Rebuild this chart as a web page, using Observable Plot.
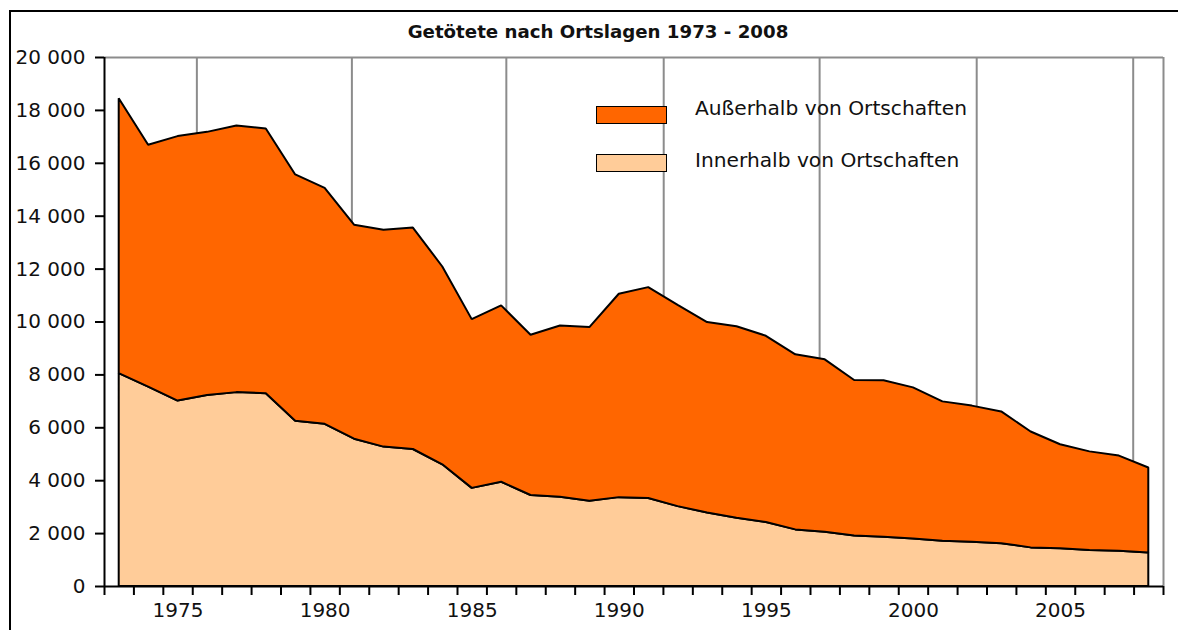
<!DOCTYPE html>
<html>
<head>
<meta charset="utf-8">
<script src="https://cdn.jsdelivr.net/npm/d3@7"></script>
<script src="https://cdn.jsdelivr.net/npm/@observablehq/plot@0.6"></script>
<style>
  html, body { margin: 0; padding: 0; background: #fff; }
  #wrap { position: relative; width: 1178px; height: 630px; overflow: hidden; font-family: "DejaVu Sans", sans-serif; }
  #frame { position: absolute; left: 9px; top: 10px; width: 1300px; height: 800px; border-left: 2.5px solid #000; border-top: 2.5px solid #000; box-sizing: border-box; }
  #title { position: absolute; left: 0; width: 1196px; top: 21px; text-align: center; font-weight: bold; font-size: 18.2px; color: #111; }
  #chart { position: absolute; left: 0; top: 0; }
  .leg { position: absolute; left: 596px; width: 71px; height: 18px; border: 1.5px solid #000; box-sizing: border-box; }
  .legtxt { position: absolute; left: 695px; font-size: 20.2px; color: #111; line-height: 24px; }
</style>
</head>
<body>
<div id="wrap">
  <div id="frame"></div>
  <div id="chart"></div>
  <div id="title">Getötete nach Ortslagen 1973 - 2008</div>
  <div class="leg" style="top:106px;background:#FF6600"></div>
  <div class="legtxt" style="top:96px">Außerhalb von Ortschaften</div>
  <div class="leg" style="top:154px;background:#FFCC99"></div>
  <div class="legtxt" style="top:148px">Innerhalb von Ortschaften</div>
</div>
<script>
const years = [1973,1974,1975,1976,1977,1978,1979,1980,1981,1982,1983,1984,1985,1986,1987,1988,1989,1990,1991,1992,1993,1994,1995,1996,1997,1998,1999,2000,2001,2002,2003,2004,2005,2006,2007,2008];
const innerhalb = [8050,7540,7010,7220,7330,7290,6250,6130,5570,5270,5180,4600,3710,3940,3440,3370,3220,3360,3330,3020,2780,2580,2420,2140,2050,1910,1860,1800,1710,1670,1620,1460,1430,1360,1330,1270];
const ausserhalb = [10390,9140,10000,9950,10080,10010,9310,8920,8090,8200,8370,7480,6380,6670,6060,6480,6570,7690,7970,7610,7200,7240,7040,6620,6520,5880,5920,5710,5270,5150,4980,4380,3930,3730,3600,3210];
const seriesNames = ["Innerhalb von Ortschaften", "Außerhalb von Ortschaften"];
const seriesColors = ["#FFCC99", "#FF6600"];
const yTicks = [0,2000,4000,6000,8000,10000,12000,14000,16000,18000,20000];
const xLabelYears = [1975,1980,1985,1990,1995,2000,2005];
const gridYears = [1975.64,1980.91,1986.16,1991.51,1996.81,2002.15,2007.47];

const rows = [];
years.forEach((y, i) => rows.push({year: y, series: seriesNames[0], value: innerhalb[i]}));
years.forEach((y, i) => rows.push({year: y, series: seriesNames[1], value: ausserhalb[i]}));
const xMin = years[0] - 0.5, xMax = years[years.length - 1] + 0.5;
const boundaries = d3.range(xMin, xMax + 0.01, 1);
const fmt = d => d3.format(",")(d).replace(/,/g, " ");

const chart = Plot.plot({
  width: 1178,
  height: 630,
  marginLeft: 104,
  marginRight: 15,
  marginTop: 57,
  marginBottom: 44,
  style: {fontFamily: "DejaVu Sans, sans-serif", background: "transparent", color: "#111"},
  x: {domain: [xMin, xMax]},
  y: {domain: [0, 20000]},
  color: {domain: seriesNames, range: seriesColors},
  marks: [
    Plot.ruleX(gridYears, {stroke: "#8c8c8c", strokeWidth: 2}),
    Plot.ruleY([20000], {stroke: "#8c8c8c", strokeWidth: 2}),
    Plot.ruleX([xMax], {stroke: "#8c8c8c", strokeWidth: 2}),
    Plot.areaY(rows, {x: "year", y: "value", z: "series", fill: "series", stroke: "#000", strokeWidth: 2, strokeLinejoin: "miter"}),
    Plot.ruleX([xMin], {stroke: "#000", strokeWidth: 2}),
    Plot.ruleY([0], {stroke: "#000", strokeWidth: 2}),
    Plot.axisY({ticks: yTicks, tickFormat: fmt, tickSize: 9, tickPadding: 10, fontSize: 20, stroke: "#000", strokeWidth: 2, label: null}),
    Plot.axisX({ticks: boundaries, tickFormat: () => "", tickSize: 9, stroke: "#000", strokeWidth: 2, label: null}),
    Plot.axisX({ticks: xLabelYears, tickFormat: d => String(d), tickSize: 0, tickPadding: 16, fontSize: 20, label: null})
  ]
});
document.getElementById("chart").appendChild(chart);
</script>
</body>
</html>
